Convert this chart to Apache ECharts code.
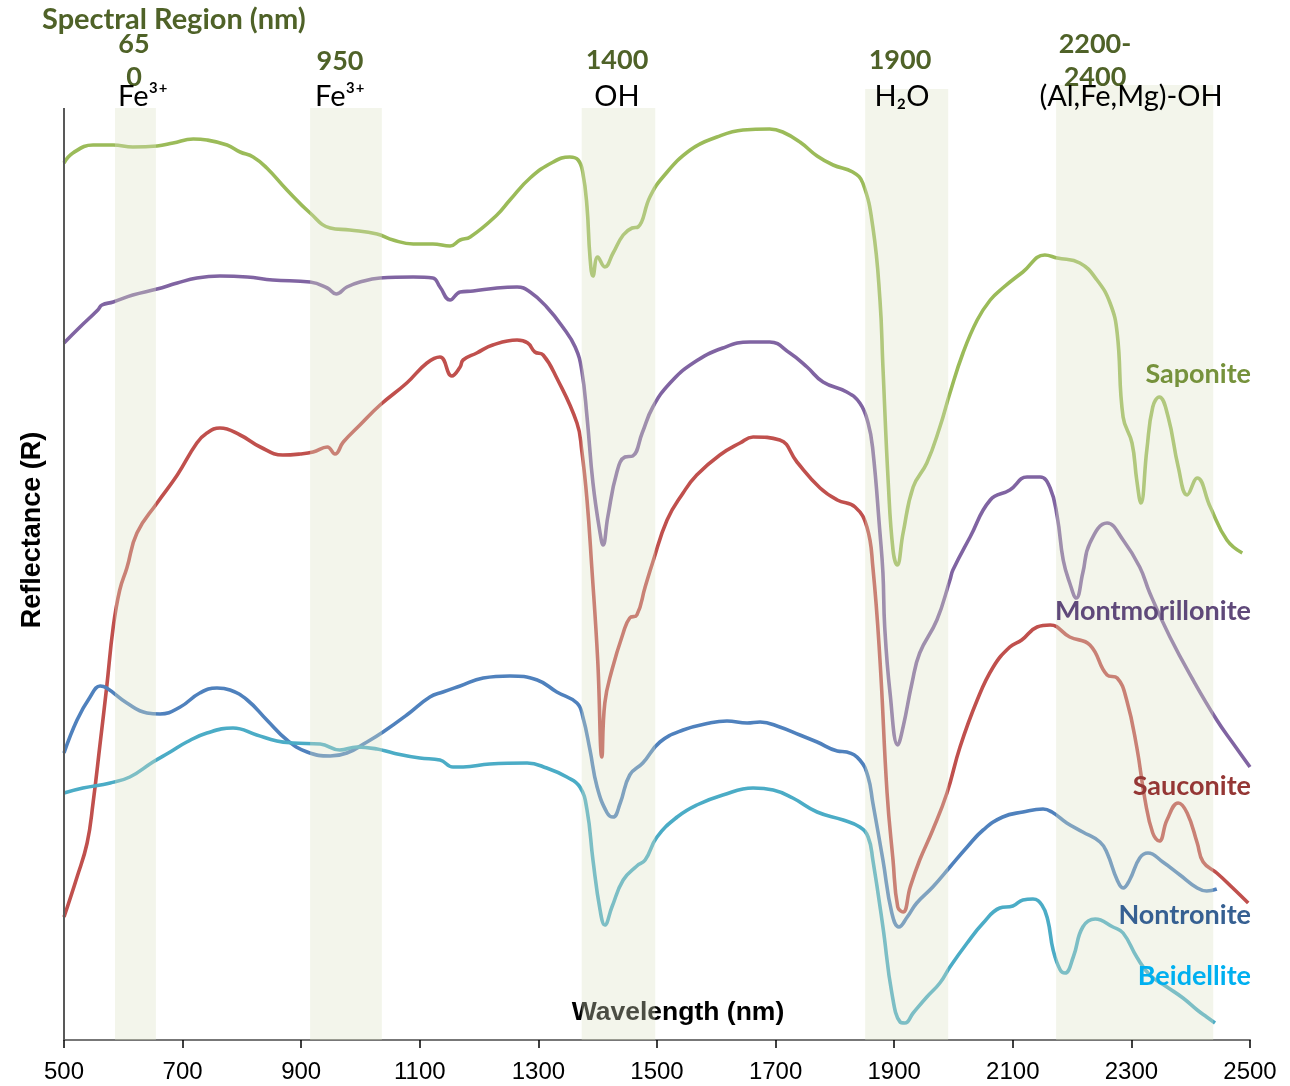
<!DOCTYPE html>
<html><head><meta charset="utf-8">
<script src="https://cdn.jsdelivr.net/npm/echarts@6/dist/echarts.min.js"></script>
<style>html,body{margin:0;padding:0;background:#fff}#c{width:1290px;height:1086px}</style>
</head><body><div id="c"></div>
<script>
// ---- data ----
const xTicks = [500,700,900,1100,1300,1500,1700,1900,2100,2300,2500];
const bandStart = [586, 915, 1373, 1851, 2173];
const bandEnd   = [655, 1036, 1497, 1991, 2438];
const bandTop   = [93.2, 93.2, 93.2, 95.1, 95.5];
const bandNums  = ['65\n0', '950', '1400', '1900', '2200-\n2400'];
const bandNames = ['Fe³⁺', 'Fe³⁺', 'OH', 'H₂O', '(Al,Fe,Mg)-OH'];
const seriesNames = ['Saponite','Montmorillonite','Sauconite','Nontronite','Beidellite'];

const sapoX = [500,515,549,583,616,657,684,718,741,775,797,819,842,876,915,949,982,1028,1055,1089,1122,1151,1168,1185,1230,1252,1286,1325,1353,1367,1375,1382,1387,1392,1400,1412,1426,1443,1458,1468,1488,1510,1556,1601,1645,1690,1712,1741,1770,1797,1830,1847,1864,1876,1881,1890,1898,1905,1915,1932,1955,1977,1994,2016,2040,2062,2083,2117,2154,2175,2213,2242,2264,2276,2286,2301,2309,2316,2326,2336,2347,2362,2379,2394,2411,2433,2461,2487];
const sapoY = [87.7,88.7,89.5,89.5,89.3,89.4,89.7,90.1,90.0,89.5,88.8,88.3,87.2,85.0,82.7,81.2,81.0,80.6,80.0,79.6,79.6,79.4,80.0,80.3,82.5,84.0,86.2,87.8,88.3,88.0,86.7,83.3,78.3,76.4,78.3,77.3,78.7,80.5,81.2,81.3,84.3,86.3,89.0,90.3,91.0,91.1,90.8,89.8,88.4,87.5,86.8,85.7,81.3,74.0,67.3,55.7,49.0,47.5,50.7,55.3,57.7,61.3,64.7,68.7,72.0,74.0,75.2,76.8,78.5,78.2,77.7,76.0,73.7,70.7,62.3,59.7,56.0,53.7,59.0,63.3,64.3,62.3,57.3,54.5,56.2,53.3,50.0,48.7];

const montX = [500,527,557,564,583,616,657,691,724,763,809,852,915,944,959,977,999,1033,1089,1122,1134,1151,1168,1190,1230,1264,1286,1314,1341,1362,1373,1382,1392,1404,1409,1417,1432,1446,1459,1475,1493,1522,1561,1611,1657,1690,1724,1753,1780,1820,1842,1856,1864,1876,1881,1884,1893,1906,1915,1930,1943,1972,1994,1999,2028,2062,2095,2124,2146,2163,2175,2185,2196,2207,2218,2230,2259,2286,2314,2331,2365,2404,2444,2471,2500];
const montY = [69.7,71.3,73.0,73.5,73.8,74.5,75.1,75.7,76.2,76.4,76.3,76.0,75.8,75.2,74.6,75.3,75.8,76.2,76.3,76.2,75.3,74.0,74.8,74.9,75.2,75.3,74.8,73.3,71.3,69.3,67.0,62.3,55.7,50.7,49.5,52.3,56.7,58.3,58.4,60.7,63.3,65.7,67.7,69.2,69.8,69.8,68.7,67.3,65.8,64.8,63.7,61.7,59.0,50.7,46.7,41.3,34.7,29.5,31.3,35.7,38.7,42.0,46.0,47.0,50.3,54.0,55.0,56.3,56.3,55.2,52.3,48.0,45.7,44.2,46.7,49.7,51.7,50.0,47.3,44.7,40.3,36.0,32.0,29.7,27.3];

const sauX = [500,522,539,549,561,572,583,594,606,623,657,691,724,741,763,797,831,869,898,920,944,957,971,999,1033,1078,1112,1134,1154,1168,1173,1196,1223,1264,1282,1294,1308,1331,1365,1373,1382,1390,1400,1407,1412,1424,1443,1454,1466,1480,1493,1517,1544,1567,1606,1640,1662,1707,1736,1775,1804,1834,1854,1864,1876,1888,1898,1906,1915,1927,1943,1965,1989,2011,2040,2067,2095,2115,2141,2163,2196,2230,2259,2276,2292,2309,2323,2336,2347,2360,2379,2394,2411,2421,2444,2471,2497];
const sauY = [12.3,16.3,19.7,23.7,29.7,35.3,41.3,45.0,47.2,50.7,53.7,56.5,59.7,60.7,61.2,60.5,59.3,58.5,58.6,58.8,59.3,58.6,59.8,61.5,63.5,65.7,67.7,68.3,66.4,67.3,68.0,68.7,69.5,70.0,69.7,68.8,68.5,66.2,61.7,59.0,54.0,47.3,38.0,28.3,33.7,37.0,40.7,42.2,42.5,45.3,47.8,52.0,54.7,56.5,58.5,59.7,60.3,60.0,57.8,55.2,54.0,53.3,51.3,47.3,38.0,24.7,18.0,13.3,12.8,15.3,18.0,21.0,24.7,29.3,34.0,37.3,39.3,40.0,41.3,41.5,40.3,39.5,36.5,36.2,34.0,29.3,24.0,20.7,19.9,22.0,23.7,22.7,19.7,17.8,16.7,15.2,13.7];

const nonX = [500,522,544,561,572,606,640,662,696,729,758,780,809,842,876,910,949,977,1011,1038,1078,1117,1139,1168,1207,1252,1298,1331,1365,1375,1387,1399,1416,1426,1438,1454,1476,1505,1544,1589,1618,1652,1674,1707,1741,1770,1804,1820,1842,1856,1864,1881,1896,1908,1922,1938,1965,1994,2023,2050,2083,2117,2151,2166,2191,2218,2247,2259,2276,2286,2297,2314,2328,2353,2382,2411,2427,2444];
const nonY = [28.7,32.0,34.3,35.4,35.2,33.7,32.7,32.6,33.3,34.7,35.2,35.0,34.0,32.0,30.0,28.8,28.4,28.7,29.8,30.8,32.5,34.3,34.8,35.4,36.2,36.4,36.0,34.8,33.7,32.3,29.0,25.3,22.7,22.3,23.7,26.5,27.7,29.8,31.0,31.7,31.9,31.7,31.8,31.3,30.5,29.8,28.9,28.8,28.0,26.3,23.7,18.0,12.7,11.3,12.3,13.7,15.3,17.3,19.3,21.0,22.3,22.8,23.1,22.8,21.7,20.8,19.8,18.7,16.0,15.2,16.0,18.2,18.7,17.8,16.5,15.2,14.9,15.1];

const beiX = [500,532,578,611,650,679,707,741,785,825,859,886,932,965,994,1028,1055,1100,1134,1156,1173,1218,1281,1314,1348,1370,1382,1392,1404,1412,1424,1443,1466,1480,1500,1534,1567,1611,1662,1696,1729,1770,1814,1842,1856,1864,1881,1896,1910,1918,1932,1955,1977,1994,2023,2050,2078,2100,2117,2134,2149,2159,2168,2180,2188,2202,2218,2239,2269,2286,2309,2331,2360,2387,2411,2427,2441];
const beiY = [24.7,25.2,25.7,26.3,27.8,28.8,29.8,30.7,31.2,30.5,29.9,29.7,29.6,29.0,29.3,29.1,28.7,28.2,28.0,27.3,27.3,27.6,27.7,27.2,26.3,25.3,23.0,18.0,13.0,11.5,13.3,16.0,17.4,18.0,20.3,22.3,23.5,24.5,25.2,25.0,24.2,22.8,22.0,21.3,20.3,18.0,11.3,4.7,1.8,1.7,2.7,4.3,5.7,7.3,9.7,11.7,13.2,13.4,14.0,14.1,13.5,12.0,9.0,7.0,6.7,8.3,11.3,12.1,11.3,10.7,8.3,6.5,5.3,4.2,3.0,2.3,1.7];

// ---- styling ----
const lineColors  = ['#9bbb59','#8064a2','#c0504d','#4f81bd','#4bacc6'];
const labelColors = ['#76923c','#5f497a','#953735','#366092','#00b0f0'];

function pairs(xs, ys){ return xs.map((x,i)=>[x, ys[i]]); }
const allX = [sapoX, montX, sauX, nonX, beiX];
const allY = [sapoY, montY, sauY, nonY, beiY];

const chart = echarts.init(document.getElementById('c'), null, {renderer:'canvas'});

const lineSeries = seriesNames.map((n,i)=>({
  name:n, type:'line', data:pairs(allX[i], allY[i]), showSymbol:false, symbol:'none',
  smooth:0.45, z:3,
  lineStyle:{color:lineColors[i], width:3.6}, itemStyle:{color:lineColors[i]}
}));

// translucent spectral-region bands, drawn over the curves
const bandSeries = {
  type:'custom', z:10, silent:true, clip:false,
  data: bandStart.map((s,i)=>[s, bandEnd[i], bandTop[i]]),
  encode:{x:[0,1], y:2},
  renderItem:(params, api)=>{
    const p0 = api.coord([api.value(0), api.value(2)]);
    const p1 = api.coord([api.value(1), 0]);
    return {type:'rect', shape:{x:p0[0], y:p0[1], width:p1[0]-p0[0], height:p1[1]-p0[1]},
      style:{fill:'rgba(219,227,197,0.34)'}};
  }
};
const axisSeries = {
  type:'line', data:[], z:4, silent:true,
  markLine:{silent:true, symbol:['none','none'], label:{show:false},
    lineStyle:{color:'#595959', width:2, type:'solid'},
    data:[[{coord:[500,0]},{coord:[500,93.2]}]]}
};

// text overlays (labels only)
const bandCenterPx = [134, 340, 617, 900, 1095];
const numY = [61, 61, 60, 60, 61];
const nameCenterPx = [143, 340, 617, 902, 1131];
const graphics = [];
const TZ = 2;
graphics.push({type:'text', x:42, y:20, zlevel:TZ, style:{text:'Spectral Region (nm)', font:'bold 29px Lato', fill:'#4f6228', align:'left', verticalAlign:'middle'}});
bandNums.forEach((t,i)=>{
  graphics.push({type:'text', x:bandCenterPx[i], y:numY[i], zlevel:TZ, style:{text:t, font:'bold 27px Lato', fill:'#4f6228', align:'center', verticalAlign:'middle', lineHeight:33}});
});
bandNames.forEach((t,i)=>{
  graphics.push({type:'text', x:nameCenterPx[i], y:97, zlevel:TZ, style:{text:t, font:'29px Lato', fill:'#000', align:'center', verticalAlign:'middle'}});
});
const seriesLabelY = [374, 611, 786, 915, 976];
seriesNames.forEach((n,i)=>{
  graphics.push({type:'text', x:1251, y:seriesLabelY[i], zlevel:TZ, style:{text:n, font:'bold 27px Lato', fill:labelColors[i], align:'right', verticalAlign:'middle'}});
});
graphics.push({type:'text', x:33, y:530, rotation:Math.PI/2, zlevel:TZ, style:{text:'Reflectance (R)', font:'bold 27px "Liberation Sans"', fill:'#000', align:'center', verticalAlign:'middle'}});

chart.setOption({
  animation:false,
  backgroundColor:'#fff',
  title:{text:'Wavelength (nm)', left:673, top:1008, textAlign:'center', textVerticalAlign:'middle', z:1,
    textStyle:{fontFamily:'Liberation Sans', fontWeight:'bold', fontSize:26.5, color:'#000'}},
  grid:{left:64, right:40, top:85, bottom:46, containLabel:false},
  xAxis:{type:'value', min:500, max:2500, interval:200,
    axisLine:{show:true, onZero:false, lineStyle:{color:'#777', width:2}},
    axisTick:{show:true, length:8, lineStyle:{color:'#000', width:1.5}},
    axisLabel:{margin:20, fontFamily:'Liberation Sans', fontSize:24, color:'#000',
      formatter:(v)=>String(v)},
    splitLine:{show:false}},
  yAxis:{type:'value', min:0, max:95.5, show:true,
    axisLine:{show:false}, axisTick:{show:false}, axisLabel:{show:false}, splitLine:{show:false}},
  graphic:graphics,
  series:[...lineSeries, axisSeries, bandSeries]
});
</script></body></html>
